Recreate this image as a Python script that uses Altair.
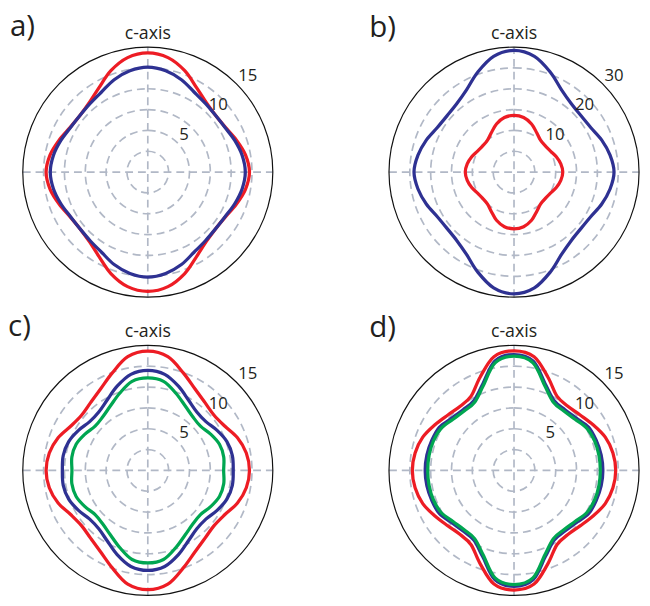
import math
import altair as alt
import pandas as pd

# ---- data (radius vs. angle from the c-axis, one quadrant; curves are mirror-symmetric)
ANGLES = [0, 10, 20, 30, 40, 50, 60, 70, 80, 90]

a_red = [14.3, 13.95, 12.95, 11.7, 10.9, 10.6, 10.75, 11.3, 11.9, 12.2]
a_blue = [12.6, 12.35, 11.8, 11.1, 10.75, 10.6, 10.7, 11.1, 11.5, 11.7]

b_red = [13.6, 13.3, 12.3, 10.9, 9.95, 9.8, 10.1, 10.8, 11.4, 11.7]
b_blue = [29.2, 28.2, 25.5, 22.8, 21.4, 21.0, 21.3, 22.4, 23.4, 24.0]

c_red = [14.3, 13.85, 12.45, 11.3, 10.65, 10.35, 10.65, 11.45, 12.0, 12.2]
c_blue = [12.0, 11.7, 10.75, 9.75, 9.15, 9.1, 9.6, 10.1, 10.3, 10.25]
c_green = [11.1, 10.85, 9.85, 8.95, 8.4, 8.25, 8.7, 9.15, 9.25, 9.1]

d_red = [14.35, 13.85, 11.9, 10.3, 10.05, 10.35, 10.95, 11.65, 12.05, 12.2]
d_blue = [13.9, 13.3, 11.0, 9.65, 9.5, 9.75, 10.35, 10.5, 10.62, 10.66]
d_green = [13.7, 13.1, 10.8, 9.45, 9.3, 9.55, 10.1, 10.3, 10.35, 10.35]

grid_15 = [2.5, 5, 7.5, 10, 12.5]
grid_30 = [5, 10, 15, 20, 25]
labels_15 = [5, 10, 15]
labels_30 = [10, 20, 30]

COLORS = {"red": "#ED1C24", "blue": "#2E3192", "green": "#00A651"}
GRID = "#B1B8C6"
INK = "#231F20"
FONT = "Open Sans"


def quadrant_to_full(radii):
    seen = {}
    for a, r in zip(ANGLES, radii):
        for ang in (a, 180 - a, 180 + a, 360 - a):
            seen[ang % 360] = r
    return sorted(seen.items())


series_data = {
    "a": {"red": a_red, "blue": a_blue},
    "b": {"red": b_red, "blue": b_blue},
    "c": {"red": c_red, "blue": c_blue, "green": c_green},
    "d": {"red": d_red, "blue": d_blue, "green": d_green},
}

rows = []
for p, ser in series_data.items():
    for s, radii in ser.items():
        for ang, r in quadrant_to_full(radii):
            rows.append({"panel": p, "series": s, "ang": ang, "r": r})
curves = pd.DataFrame(rows)

SIZE = 254
RPX = SIZE / 2
one = pd.DataFrame({"k": [0]})
DASH = [8, 5]
GW = 1.7


def make_panel(key, R, grid, labels, letter, ldx, ldy):
    xs = alt.Scale(domain=[-R, R], nice=False, zero=False)
    ys = alt.Scale(domain=[-R, R], nice=False, zero=False)
    rs = alt.Scale(type="linear", domain=[0, R], range=[0, RPX], zero=True, nice=False)

    grid_circles = alt.Chart(pd.DataFrame({"g": grid})).mark_arc(
        theta=0, theta2=2 * math.pi, fillOpacity=0, stroke=GRID,
        strokeWidth=GW, strokeDash=DASH
    ).encode(
        x=alt.XDatum(0, scale=xs, axis=None),
        y=alt.YDatum(0, scale=ys, axis=None),
        radius=alt.Radius("g:Q", scale=rs, stack=False),
    )

    vline = alt.Chart(one).mark_rule(color=GRID, strokeWidth=GW, strokeDash=DASH).encode(
        x=alt.XDatum(0, scale=xs, axis=None),
        y=alt.YDatum(-R, scale=ys, axis=None),
        y2=alt.datum(R),
    )
    hline = alt.Chart(one).mark_rule(color=GRID, strokeWidth=GW, strokeDash=DASH).encode(
        y=alt.YDatum(0, scale=ys, axis=None),
        x=alt.XDatum(-R, scale=xs, axis=None),
        x2=alt.datum(R),
    )

    outer = alt.Chart(one).mark_arc(
        theta=0, theta2=2 * math.pi, fillOpacity=0, stroke="#111111", strokeWidth=1.2
    ).encode(
        x=alt.XDatum(0, scale=xs, axis=None),
        y=alt.YDatum(0, scale=ys, axis=None),
        radius=alt.RadiusDatum(R, scale=rs),
    )

    layers = [grid_circles, vline, hline, outer]

    for s in series_data[key]:
        line = alt.Chart(curves).transform_filter(
            (alt.datum.panel == key) & (alt.datum.series == s)
        ).transform_calculate(
            x="datum.r * sin(datum.ang * PI / 180)",
            y="datum.r * cos(datum.ang * PI / 180)",
        ).mark_line(
            interpolate="cardinal-closed", color=COLORS[s], strokeWidth=3.3
        ).encode(
            x=alt.X("x:Q", scale=xs, axis=None),
            y=alt.Y("y:Q", scale=ys, axis=None),
            order=alt.Order("ang:Q"),
        )
        layers.append(line)

    tick_text = alt.Chart(pd.DataFrame({"v": labels})).transform_calculate(
        x="datum.v * sin(PI / 4)",
        y="datum.v * cos(PI / 4)",
    ).mark_text(
        align="left", baseline="alphabetic", dx=2, dy=-3,
        fontSize=17, font=FONT, color=INK
    ).encode(
        x=alt.X("x:Q", scale=xs, axis=None),
        y=alt.Y("y:Q", scale=ys, axis=None),
        text=alt.Text("v:Q", format="d"),
    )

    caxis = alt.Chart(one).mark_text(
        text="c-axis", align="center", baseline="alphabetic", dy=-8,
        fontSize=18, font=FONT, color=INK
    ).encode(
        x=alt.XDatum(0, scale=xs, axis=None),
        y=alt.YDatum(R, scale=ys, axis=None),
    )

    letter_text = alt.Chart(one).mark_text(
        text=letter, align="left", baseline="alphabetic", dx=ldx, dy=ldy,
        fontSize=30, font=FONT, color=INK
    ).encode(
        x=alt.XDatum(-R, scale=xs, axis=None),
        y=alt.YDatum(R, scale=ys, axis=None),
    )

    layers += [tick_text, caxis, letter_text]
    return alt.layer(*layers).properties(width=SIZE, height=SIZE)


pa = make_panel("a", 15, grid_15, labels_15, "a)", -13, -11)
pb = make_panel("b", 30, grid_30, labels_30, "b)", -20, -10)
pc = make_panel("c", 15, grid_15, labels_15, "c)", -15, -10)
pd_ = make_panel("d", 15, grid_15, labels_15, "d)", -20, -9)

chart = alt.concat(
    pa, pb, pc, pd_, columns=2, spacing={"row": 49, "column": 118}, bounds="flush"
).configure_view(strokeWidth=0).configure_axis(disable=True).properties(padding=0)

chart.save("out.html", embed_options={"renderer": "svg", "actions": False})
